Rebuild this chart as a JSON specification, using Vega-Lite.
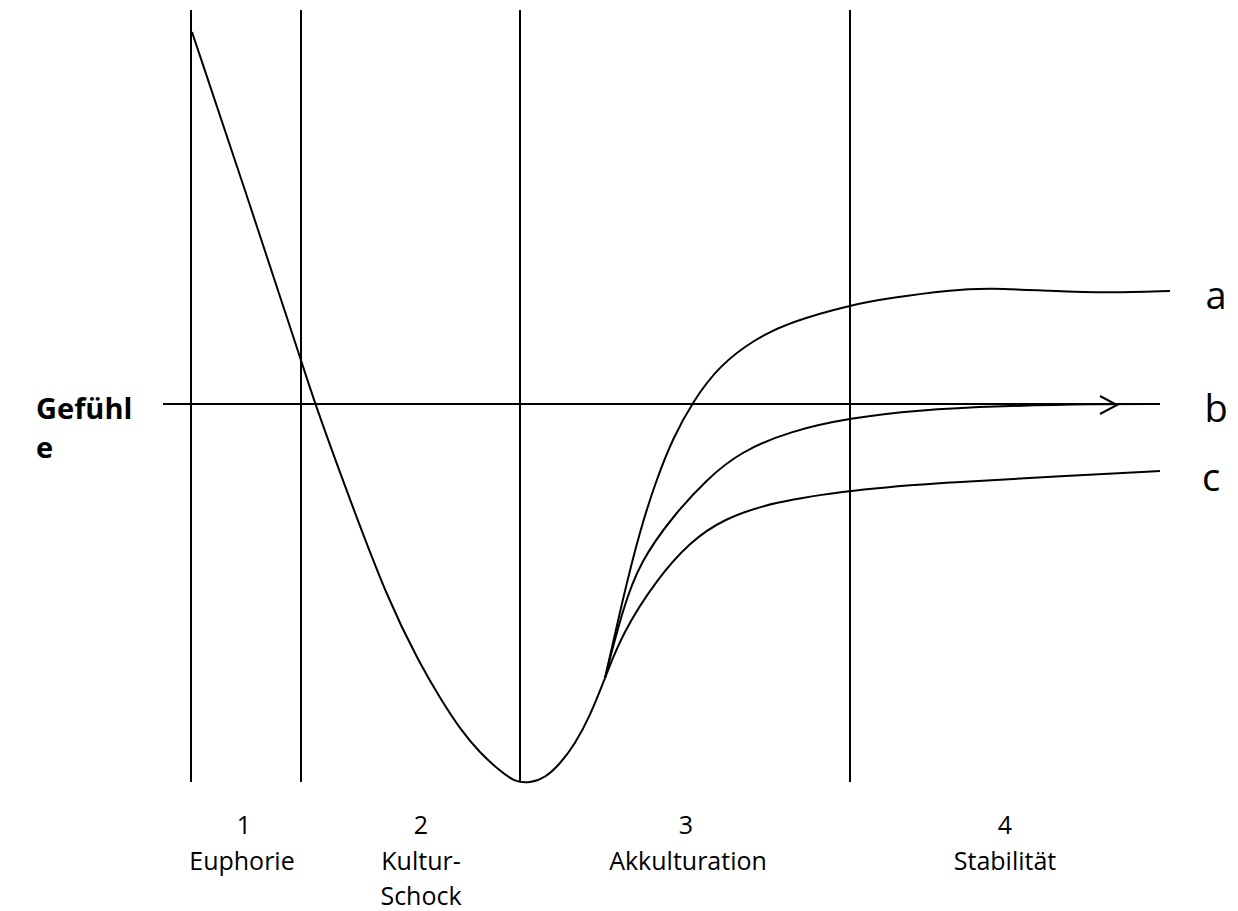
{
  "$schema": "https://vega.github.io/schema/vega-lite/v6.json",
  "width": 1238,
  "height": 911,
  "autosize": "none",
  "padding": 0,
  "background": "white",
  "config": {"view": {"stroke": null}},
  "layer": [
    {
      "data": {"values": [
        {"x": 191, "y": 10, "y2": 782},
        {"x": 301, "y": 10, "y2": 782},
        {"x": 520, "y": 10, "y2": 782},
        {"x": 850, "y": 10, "y2": 782}
      ]},
      "mark": {"type": "rule", "color": "black", "strokeWidth": 2},
      "encoding": {
        "x": {"field": "x", "type": "quantitative", "scale": {"domain": [0, 1238]}, "axis": null},
        "y": {"field": "y", "type": "quantitative", "scale": {"domain": [911, 0]}, "axis": null},
        "y2": {"field": "y2"}
      }
    },
    {
      "data": {"values": [{"x": 163, "x2": 1160, "y": 404}]},
      "mark": {"type": "rule", "color": "black", "strokeWidth": 2},
      "encoding": {
        "x": {"field": "x", "type": "quantitative", "scale": {"domain": [0, 1238]}, "axis": null},
        "x2": {"field": "x2"},
        "y": {"field": "y", "type": "quantitative", "scale": {"domain": [911, 0]}, "axis": null}
      }
    },
    {
      "data": {"values": [
        {"s": "main", "x": 192, "y": 32},
        {"s": "main", "x": 250, "y": 205},
        {"s": "main", "x": 301, "y": 360},
        {"s": "main", "x": 315, "y": 404},
        {"s": "main", "x": 350, "y": 500},
        {"s": "main", "x": 388, "y": 600},
        {"s": "main", "x": 420, "y": 664},
        {"s": "main", "x": 440, "y": 698},
        {"s": "main", "x": 460, "y": 729},
        {"s": "main", "x": 480, "y": 753},
        {"s": "main", "x": 500, "y": 771},
        {"s": "main", "x": 515, "y": 782},
        {"s": "main", "x": 530, "y": 783},
        {"s": "main", "x": 545, "y": 778},
        {"s": "main", "x": 560, "y": 764},
        {"s": "main", "x": 575, "y": 744},
        {"s": "main", "x": 590, "y": 716},
        {"s": "main", "x": 605, "y": 678},
        {"s": "a", "x": 605, "y": 678},
        {"s": "a", "x": 623, "y": 598},
        {"s": "a", "x": 640, "y": 530},
        {"s": "a", "x": 657, "y": 478},
        {"s": "a", "x": 673, "y": 438},
        {"s": "a", "x": 693, "y": 401},
        {"s": "a", "x": 720, "y": 365},
        {"s": "a", "x": 755, "y": 339},
        {"s": "a", "x": 790, "y": 322},
        {"s": "a", "x": 850, "y": 305},
        {"s": "a", "x": 890, "y": 298},
        {"s": "a", "x": 950, "y": 290},
        {"s": "a", "x": 990, "y": 288},
        {"s": "a", "x": 1050, "y": 291},
        {"s": "a", "x": 1110, "y": 293},
        {"s": "a", "x": 1170, "y": 291},
        {"s": "b", "x": 605, "y": 678},
        {"s": "b", "x": 623, "y": 608},
        {"s": "b", "x": 640, "y": 562},
        {"s": "b", "x": 673, "y": 516},
        {"s": "b", "x": 707, "y": 479},
        {"s": "b", "x": 740, "y": 452},
        {"s": "b", "x": 790, "y": 431},
        {"s": "b", "x": 850, "y": 418},
        {"s": "b", "x": 917, "y": 410},
        {"s": "b", "x": 1000, "y": 406},
        {"s": "b", "x": 1100, "y": 404},
        {"s": "b", "x": 1160, "y": 404},
        {"s": "c", "x": 605, "y": 678},
        {"s": "c", "x": 623, "y": 632},
        {"s": "c", "x": 657, "y": 579},
        {"s": "c", "x": 690, "y": 542},
        {"s": "c", "x": 723, "y": 519},
        {"s": "c", "x": 773, "y": 502},
        {"s": "c", "x": 850, "y": 490},
        {"s": "c", "x": 950, "y": 482},
        {"s": "c", "x": 1050, "y": 477},
        {"s": "c", "x": 1160, "y": 471}
      ]},
      "mark": {"type": "line", "color": "black", "strokeWidth": 2, "interpolate": "basis"},
      "encoding": {
        "x": {"field": "x", "type": "quantitative", "scale": {"domain": [0, 1238]}, "axis": null},
        "y": {"field": "y", "type": "quantitative", "scale": {"domain": [911, 0]}, "axis": null},
        "detail": {"field": "s"}
      }
    },
    {
      "data": {"values": [
        {"o": 1, "x": 1100, "y": 396},
        {"o": 2, "x": 1117, "y": 405},
        {"o": 3, "x": 1100, "y": 414}
      ]},
      "mark": {"type": "line", "color": "black", "strokeWidth": 2},
      "encoding": {
        "x": {"field": "x", "type": "quantitative", "scale": {"domain": [0, 1238]}, "axis": null},
        "y": {"field": "y", "type": "quantitative", "scale": {"domain": [911, 0]}, "axis": null},
        "order": {"field": "o"}
      }
    },
    {
      "data": {"values": [
        {"x": 244, "y": 826, "t": "1"},
        {"x": 242, "y": 862, "t": "Euphorie"},
        {"x": 421, "y": 826, "t": "2"},
        {"x": 421, "y": 862, "t": "Kultur-"},
        {"x": 421, "y": 897, "t": "Schock"},
        {"x": 686, "y": 826, "t": "3"},
        {"x": 688, "y": 862, "t": "Akkulturation"},
        {"x": 1005, "y": 826, "t": "4"},
        {"x": 1005, "y": 862, "t": "Stabilität"}
      ]},
      "mark": {"type": "text", "font": "Open Sans", "fontSize": 25, "align": "center", "baseline": "middle", "color": "black"},
      "encoding": {
        "x": {"field": "x", "type": "quantitative", "scale": {"domain": [0, 1238]}, "axis": null},
        "y": {"field": "y", "type": "quantitative", "scale": {"domain": [911, 0]}, "axis": null},
        "text": {"field": "t"}
      }
    },
    {
      "data": {"values": [
        {"x": 1216, "y": 298, "t": "a"},
        {"x": 1216, "y": 411, "t": "b"},
        {"x": 1211, "y": 480, "t": "c"}
      ]},
      "mark": {"type": "text", "font": "Open Sans", "fontSize": 38, "align": "center", "baseline": "middle", "color": "black"},
      "encoding": {
        "x": {"field": "x", "type": "quantitative", "scale": {"domain": [0, 1238]}, "axis": null},
        "y": {"field": "y", "type": "quantitative", "scale": {"domain": [911, 0]}, "axis": null},
        "text": {"field": "t"}
      }
    },
    {
      "data": {"values": [
        {"x": 36, "y": 410, "t": "Gefühl"},
        {"x": 36, "y": 449, "t": "e"}
      ]},
      "mark": {"type": "text", "font": "Open Sans", "fontSize": 29, "fontWeight": "bold", "align": "left", "baseline": "middle", "color": "black"},
      "encoding": {
        "x": {"field": "x", "type": "quantitative", "scale": {"domain": [0, 1238]}, "axis": null},
        "y": {"field": "y", "type": "quantitative", "scale": {"domain": [911, 0]}, "axis": null},
        "text": {"field": "t"}
      }
    }
  ]
}
